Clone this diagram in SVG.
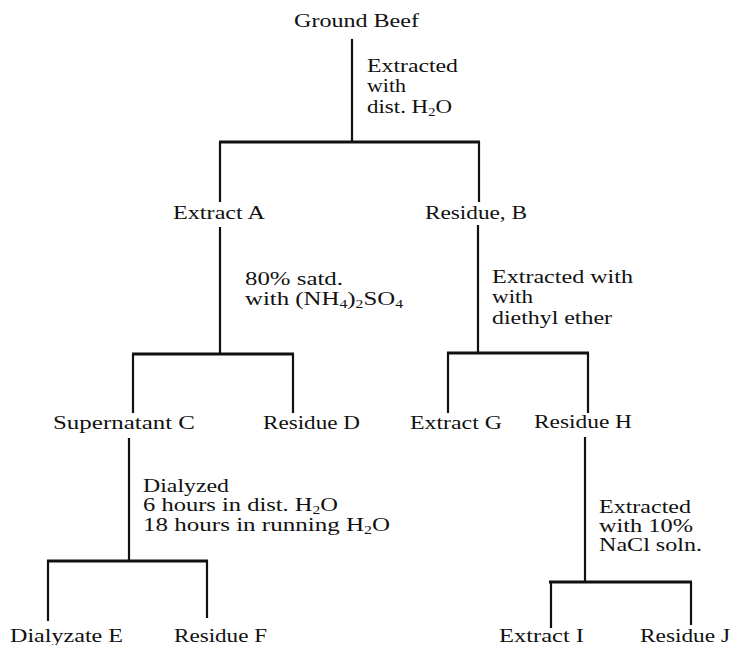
<svg xmlns="http://www.w3.org/2000/svg" width="737" height="645" viewBox="0 0 737 645">
<style>
text{font-family:"Liberation Serif","Times New Roman",serif;font-size:19px;fill:#111;}
.v{stroke:#111;stroke-width:2.2;fill:none;}
.h{stroke:#111;stroke-width:3;fill:none;}
.s{font-size:12px;}
</style>
<rect width="737" height="645" fill="#fff"/>
<g id="connectors">
<line class="v" x1="352" y1="39" x2="352" y2="141"/>
<line class="h" x1="219" y1="142" x2="480" y2="142"/>
<line class="v" x1="220" y1="142" x2="220" y2="202"/>
<line class="v" x1="479" y1="142" x2="479" y2="202"/>
<line class="v" x1="220" y1="227" x2="220" y2="353"/>
<line class="h" x1="132" y1="354" x2="294" y2="354"/>
<line class="v" x1="133" y1="354" x2="133" y2="413"/>
<line class="v" x1="293" y1="354" x2="293" y2="413"/>
<line class="v" x1="478" y1="225" x2="478" y2="352"/>
<line class="h" x1="447" y1="353" x2="589" y2="353"/>
<line class="v" x1="448" y1="353" x2="448" y2="413"/>
<line class="v" x1="588" y1="353" x2="588" y2="413"/>
<line class="v" x1="129" y1="438" x2="129" y2="560"/>
<line class="h" x1="47" y1="561" x2="208" y2="561"/>
<line class="v" x1="48" y1="561" x2="48" y2="621"/>
<line class="v" x1="207" y1="561" x2="207" y2="618"/>
<line class="v" x1="585" y1="437" x2="585" y2="581"/>
<line class="h" x1="549" y1="582" x2="692" y2="582"/>
<line class="v" x1="551" y1="582" x2="551" y2="628"/>
<line class="v" x1="691" y1="582" x2="691" y2="625"/>
</g>
<g id="ground-beef"><text x="294" y="27" textLength="125" lengthAdjust="spacingAndGlyphs">Ground Beef</text></g>
<g id="step-water">
<text x="367" y="72" textLength="91" lengthAdjust="spacingAndGlyphs">Extracted</text>
<text x="367" y="92" textLength="39" lengthAdjust="spacingAndGlyphs">with</text>
<text x="367" y="113" textLength="85" lengthAdjust="spacingAndGlyphs">dist. H<tspan class="s" dy="3">2</tspan><tspan dy="-3">O</tspan></text>
</g>
<g id="extract-a"><text x="173" y="219" textLength="92" lengthAdjust="spacingAndGlyphs">Extract A</text></g>
<g id="residue-b"><text x="425" y="219" textLength="102" lengthAdjust="spacingAndGlyphs">Residue, B</text></g>
<g id="step-ammonium">
<text x="245" y="285" textLength="98" lengthAdjust="spacingAndGlyphs">80% satd.</text>
<text x="245" y="305" textLength="158" lengthAdjust="spacingAndGlyphs">with (NH<tspan class="s" dy="3">4</tspan><tspan dy="-3">)</tspan><tspan class="s" dy="3">2</tspan><tspan dy="-3">SO</tspan><tspan class="s" dy="3">4</tspan></text>
</g>
<g id="step-ether">
<text x="492" y="283" textLength="141" lengthAdjust="spacingAndGlyphs">Extracted with</text>
<text x="492" y="303" textLength="41" lengthAdjust="spacingAndGlyphs">with</text>
<text x="492" y="324" textLength="120" lengthAdjust="spacingAndGlyphs">diethyl ether</text>
</g>
<g id="supernatant-c"><text x="53" y="429" textLength="142" lengthAdjust="spacingAndGlyphs">Supernatant C</text></g>
<g id="residue-d"><text x="263" y="429" textLength="97" lengthAdjust="spacingAndGlyphs">Residue D</text></g>
<g id="extract-g"><text x="410" y="429" textLength="92" lengthAdjust="spacingAndGlyphs">Extract G</text></g>
<g id="residue-h"><text x="534" y="428" textLength="98" lengthAdjust="spacingAndGlyphs">Residue H</text></g>
<g id="step-dialysis">
<text x="143" y="492" textLength="86" lengthAdjust="spacingAndGlyphs">Dialyzed</text>
<text x="143" y="511" textLength="195" lengthAdjust="spacingAndGlyphs">6 hours in dist. H<tspan class="s" dy="3">2</tspan><tspan dy="-3">O</tspan></text>
<text x="143" y="531" textLength="247" lengthAdjust="spacingAndGlyphs">18 hours in running H<tspan class="s" dy="3">2</tspan><tspan dy="-3">O</tspan></text>
</g>
<g id="step-nacl">
<text x="599" y="513" textLength="92" lengthAdjust="spacingAndGlyphs">Extracted</text>
<text x="599" y="532" textLength="94" lengthAdjust="spacingAndGlyphs">with 10%</text>
<text x="599" y="551" textLength="103" lengthAdjust="spacingAndGlyphs">NaCl soln.</text>
</g>
<g id="dialyzate-e"><text x="10" y="642" textLength="113" lengthAdjust="spacingAndGlyphs">Dialyzate E</text></g>
<g id="residue-f"><text x="174" y="642" textLength="93" lengthAdjust="spacingAndGlyphs">Residue F</text></g>
<g id="extract-i"><text x="499" y="642" textLength="85" lengthAdjust="spacingAndGlyphs">Extract I</text></g>
<g id="residue-j"><text x="640" y="642" textLength="90" lengthAdjust="spacingAndGlyphs">Residue J</text></g>
</svg>
